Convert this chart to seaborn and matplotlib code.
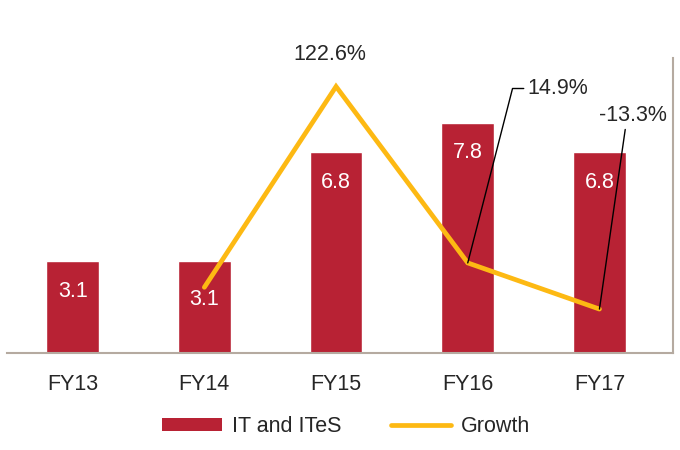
import numpy as np
import pandas as pd
import matplotlib
matplotlib.use("Agg")
import matplotlib.pyplot as plt
import seaborn as sns
from matplotlib.patches import Patch
from matplotlib.lines import Line2D

years = ["FY13", "FY14", "FY15", "FY16", "FY17"]
it_ites = [3.1, 3.1, 6.8, 7.8, 6.8]
growth = [np.nan, 0.0, 122.6, 14.9, -13.3]

BAR_COLOR = "#B82234"
LINE_COLOR = "#FDB913"
SPINE_COLOR = "#B5AAA0"
FS = 15.5


def main():
    df = pd.DataFrame({"year": years, "value": it_ites, "growth": growth})

    fig = plt.figure(figsize=(6.8, 4.5), dpi=100)
    ax = fig.add_axes([0.01, 0.216, 0.98, 0.655])

    sns.barplot(data=df, x="year", y="value", color=BAR_COLOR, width=0.4,
                saturation=1, ax=ax)
    ax.set_xlim(-0.5, 4.56)
    ax.set_ylim(0, 10)

    # value labels inside the bars
    for i, v in enumerate(df["value"]):
        drop = 1.3 if i == 1 else 1.02
        ax.text(i, v - drop, f"{v:.1f}", ha="center", va="center",
                color="white", fontsize=FS)

    ax2 = ax.twinx()
    line = df.dropna(subset=["growth"])
    sns.lineplot(x=line.index.to_numpy(), y=line["growth"].to_numpy(), ax=ax2,
                 color=LINE_COLOR, linewidth=3.4, solid_capstyle="round",
                 solid_joinstyle="miter")
    ax2.set_ylim(-40, 140)
    ax2.set_xlim(-0.5, 4.56)

    # growth labels
    ax2.annotate("122.6%", xy=(2, 122.6), xytext=(1.955, 142.2),
                 ha="center", va="center", fontsize=FS, annotation_clip=False)
    ax2.annotate("14.9%", xy=(3, 14.9), xytext=(3.45, 121.4),
                 ha="left", va="center", fontsize=FS, annotation_clip=False,
                 arrowprops=dict(arrowstyle="-", color="black", lw=1,
                                 shrinkA=0, shrinkB=0, relpos=(0, 0.5),
                                 connectionstyle="angle,angleA=0,angleB=75.6,rad=0"))
    ax2.annotate("-13.3%", xy=(4, -13.3), xytext=(4.256, 104.8),
                 ha="center", va="center", fontsize=FS, annotation_clip=False,
                 arrowprops=dict(arrowstyle="-", color="black", lw=1,
                                 shrinkA=0, shrinkB=0, relpos=(0.39, 0)))

    for a in (ax, ax2):
        for s in a.spines.values():
            s.set_visible(False)
        a.set_yticks([])
        a.set_ylabel("")
    ax.spines["bottom"].set_visible(True)
    ax.spines["bottom"].set_color(SPINE_COLOR)
    ax.spines["bottom"].set_linewidth(1.5)
    ax2.spines["right"].set_visible(True)
    ax2.spines["right"].set_color(SPINE_COLOR)
    ax2.spines["right"].set_linewidth(1.5)

    ax.set_xlabel("")
    ax.tick_params(axis="x", length=0, pad=15, labelsize=FS)

    handles = [Patch(facecolor=BAR_COLOR, edgecolor="none", label="IT and ITeS"),
               Line2D([], [], color=LINE_COLOR, lw=3.4, solid_capstyle="round",
                      label="Growth")]
    fig.legend(handles=handles, loc="center", bbox_to_anchor=(0.509, 0.053),
               ncol=2, frameon=False, fontsize=FS, handlelength=2.8,
               handleheight=0.55, columnspacing=2.3, handletextpad=0.45)

    fig.savefig("out.png", dpi=100)


if __name__ == "__main__":
    sns.set_style("white")
    plt.rcParams["font.family"] = ["Liberation Sans", "DejaVu Sans"]
    main()
